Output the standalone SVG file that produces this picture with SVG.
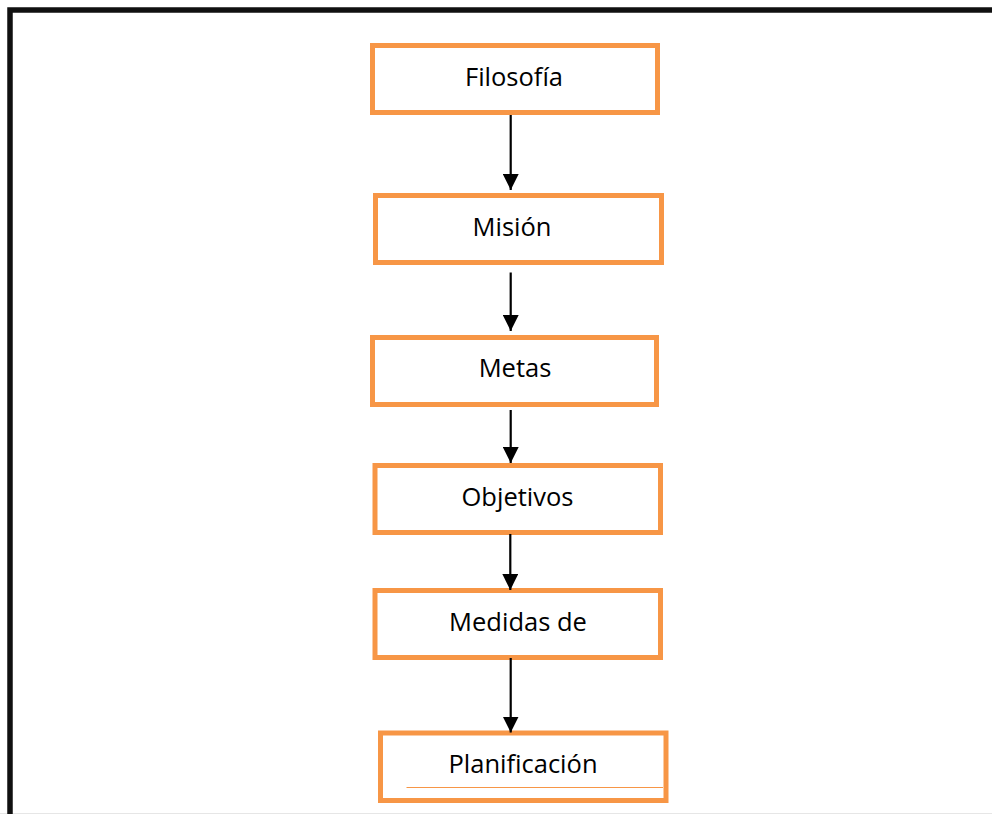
<svg xmlns="http://www.w3.org/2000/svg" width="992" height="814" viewBox="0 0 992 814">
<style>
.box{fill:#fff;stroke:#F79646;stroke-width:5}
.lbl{font-family:"Open Sans","Liberation Sans",sans-serif;font-size:25.5px;fill:#000;text-anchor:middle}
.conn{stroke:#000;stroke-width:2.2;fill:none;marker-end:url(#arr)}
</style>
<defs>
<marker id="arr" markerUnits="userSpaceOnUse" markerWidth="16" markerHeight="16" refX="16" refY="8" orient="auto">
<path d="M0,0 L16,8 L0,16 z" fill="#000"/>
</marker>
</defs>
<rect x="0" y="0" width="992" height="814" fill="#fff"/>
<line x1="0" y1="813.5" x2="992" y2="813.5" stroke="#e6e6e6" stroke-width="1"/>
<path d="M10 814 V10 H992" fill="none" stroke="#111" stroke-width="5.5"/>
<g id="n1"><rect class="box" x="372.5" y="45.5" width="285" height="67"/><text class="lbl" x="514" y="86">Filosofía</text></g>
<g id="n2"><rect class="box" x="375.5" y="195.5" width="286" height="67"/><text class="lbl" x="512" y="236">Misión</text></g>
<g id="n3"><rect class="box" x="372.5" y="337.5" width="284" height="67"/><text class="lbl" x="515" y="377">Metas</text></g>
<g id="n4"><rect class="box" x="375" y="465.5" width="285.5" height="67"/><text class="lbl" x="517.5" y="506">Objetivos</text></g>
<g id="n5"><rect class="box" x="375" y="590.5" width="285.5" height="67"/><text class="lbl" x="518" y="631">Medidas de</text></g>
<g id="n6"><rect class="box" x="380.5" y="733" width="285.5" height="67.5"/><text class="lbl" x="523" y="773">Planificación</text><line x1="406.5" y1="787.5" x2="663" y2="787.5" stroke="#F79646" stroke-width="1"/></g>
<g id="connectors">
<line class="conn" x1="510.7" y1="115" x2="510.7" y2="190"/>
<line class="conn" x1="510.7" y1="272.5" x2="510.7" y2="331"/>
<line class="conn" x1="510.7" y1="410" x2="510.7" y2="463"/>
<line class="conn" x1="510.3" y1="534" x2="510.3" y2="590"/>
<line class="conn" x1="510.7" y1="658" x2="510.7" y2="732.5"/>
</g>
</svg>
